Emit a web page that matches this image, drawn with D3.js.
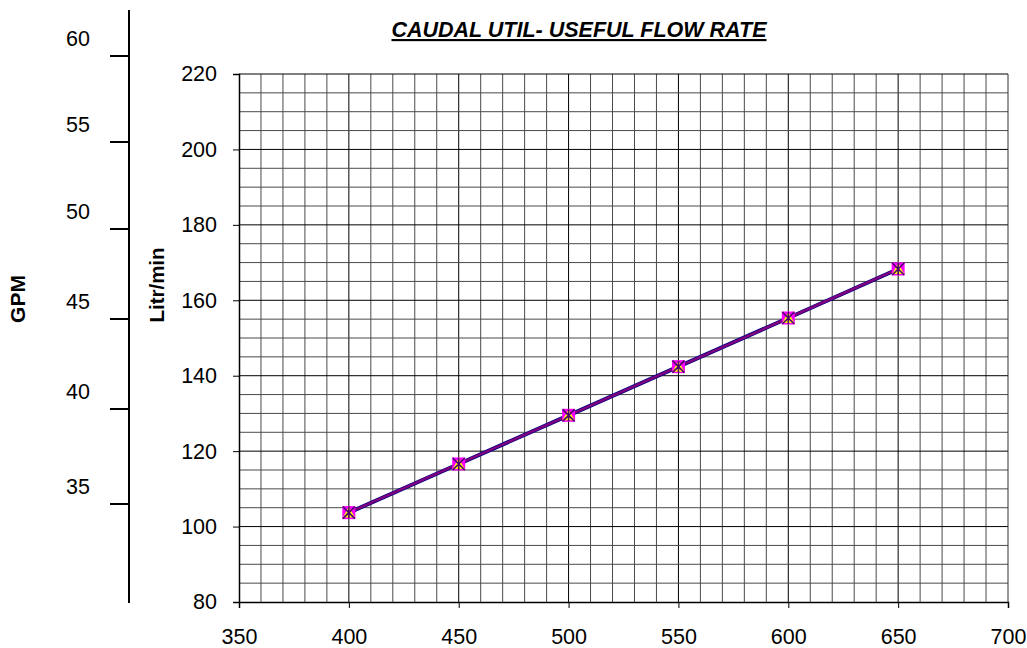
<!DOCTYPE html>
<html>
<head>
<meta charset="utf-8">
<script src="https://cdn.jsdelivr.net/npm/d3@7"></script>
<style>
  html, body { margin: 0; padding: 0; background: #fff; }
  svg { display: block; font-family: "Liberation Sans", Arial, sans-serif; }
</style>
</head>
<body>
<svg id="chart" width="1027" height="648"></svg>
<script>
// ---- data ----
const rpm = [400, 450, 500, 550, 600, 650];
const flowLitr = [103.7, 116.6, 129.5, 142.4, 155.3, 168.3];
const xTicks = [350, 400, 450, 500, 550, 600, 650, 700];
const yTicks = [80, 100, 120, 140, 160, 180, 200, 220];
const gpmTicks = [35, 40, 45, 50, 55, 60];
const titleText = "CAUDAL UTIL- USEFUL FLOW RATE";
const yLabel = "Litr/min";
const gpmLabel = "GPM";

// ---- layout ----
const svg = d3.select("#chart");
const L = 239, R = 1008, T = 74, B = 602;
const x = d3.scaleLinear().domain([350, 700]).range([L, R]);
const y = d3.scaleLinear().domain([80, 220]).range([B, T]);
// secondary (hand-drawn) GPM axis, piecewise positions
const gpm = d3.scaleLinear().domain(gpmTicks).range([504, 409, 319, 229, 142, 56]);

// grid
const g = svg.append("g");
g.selectAll(".vg").data(d3.range(360, 700, 10)).join("line")
  .attr("x1", d => x(d)).attr("x2", d => x(d)).attr("y1", T).attr("y2", B)
  .attr("stroke", d => d % 50 === 0 ? "#000" : "#4a4a4a").attr("stroke-width", 1);
g.selectAll(".hg").data(d3.range(85, 221, 5)).join("line")
  .attr("x1", L).attr("x2", R).attr("y1", d => y(d)).attr("y2", d => y(d))
  .attr("stroke", d => d % 20 === 0 ? "#000" : "#4a4a4a").attr("stroke-width", 1);
// right border
g.append("line").attr("x1", R).attr("x2", R).attr("y1", T).attr("y2", B).attr("stroke", "#333");

// axes
const fs = 21.5;
const xAxis = svg.append("g").attr("transform", `translate(0,${B})`)
  .call(d3.axisBottom(x).tickValues(xTicks).tickSize(6).tickPadding(21).tickFormat(d3.format("d")));
const yAxis = svg.append("g").attr("transform", `translate(${L},0)`)
  .call(d3.axisLeft(y).tickValues(yTicks).tickSize(6).tickPadding(16).tickFormat(d3.format("d")));
[xAxis, yAxis].forEach(a => {
  a.select(".domain").attr("stroke", "#000").attr("stroke-width", 1.5);
  a.selectAll(".tick line").attr("stroke", "#000");
  a.selectAll("text").attr("font-size", fs).attr("fill", "#000")
    .attr("font-family", "Liberation Sans, Arial, sans-serif");
});

// GPM axis
const ga = svg.append("g");
ga.append("line").attr("x1", 129).attr("x2", 129).attr("y1", 10).attr("y2", 603)
  .attr("stroke", "#000").attr("stroke-width", 2);
ga.selectAll(".gt").data(gpmTicks).join("line")
  .attr("x1", 110).attr("x2", 129).attr("y1", d => gpm(d)).attr("y2", d => gpm(d))
  .attr("stroke", "#000").attr("stroke-width", 2);
ga.selectAll(".gl").data(gpmTicks).join("text")
  .attr("x", 90).attr("y", d => gpm(d) - 16).attr("text-anchor", "end")
  .attr("dominant-baseline", "middle").attr("font-size", fs).text(d => d);

// axis titles
svg.append("text").attr("transform", "translate(25,299) rotate(-90)")
  .attr("text-anchor", "middle").attr("font-weight", "bold").attr("font-size", 21).text(gpmLabel);
svg.append("text").attr("transform", "translate(164,285) rotate(-90)")
  .attr("text-anchor", "middle").attr("font-weight", "bold").attr("font-size", 20.5).text(yLabel);

// title
svg.append("text").attr("x", 579).attr("y", 37).attr("text-anchor", "middle")
  .attr("font-weight", "bold").attr("font-style", "italic").attr("font-size", 21.5)
  .attr("text-decoration", "underline").text(titleText);

// lines
const pts = rpm.map((r, i) => [r, flowLitr[i]]);
const line = d3.line().x(d => x(d[0])).y(d => y(d[1]));
svg.append("path").datum(pts).attr("d", line).attr("fill", "none")
  .attr("stroke", "#000080").attr("stroke-width", 4);
svg.append("path").datum(pts).attr("d", line).attr("fill", "none")
  .attr("stroke", "#800080").attr("stroke-width", 2.5);

// markers
const m = svg.append("g");
m.selectAll("rect").data(pts).join("rect")
  .attr("x", d => x(d[0]) - 6.5).attr("y", d => y(d[1]) - 6.5)
  .attr("width", 13).attr("height", 13).attr("fill", "#FF00FF");
m.selectAll(".tri").data(pts).join("path").attr("class", "tri")
  .attr("d", d => { const cx = x(d[0]), cy = y(d[1]);
    return `M${cx},${cy - 6}L${cx + 6},${cy + 5}L${cx - 6},${cy + 5}Z`; })
  .attr("fill", "#FFFF00");
m.selectAll(".star").data(pts).join("path").attr("class", "star")
  .attr("d", d => { const cx = x(d[0]), cy = y(d[1]);
    return `M${cx - 6},${cy - 6}L${cx + 6},${cy + 6}M${cx + 6},${cy - 6}L${cx - 6},${cy + 6}M${cx},${cy - 6}L${cx},${cy + 6}`; })
  .attr("stroke", "#4B0070").attr("stroke-width", 1.6).attr("fill", "none");
</script>
</body>
</html>
